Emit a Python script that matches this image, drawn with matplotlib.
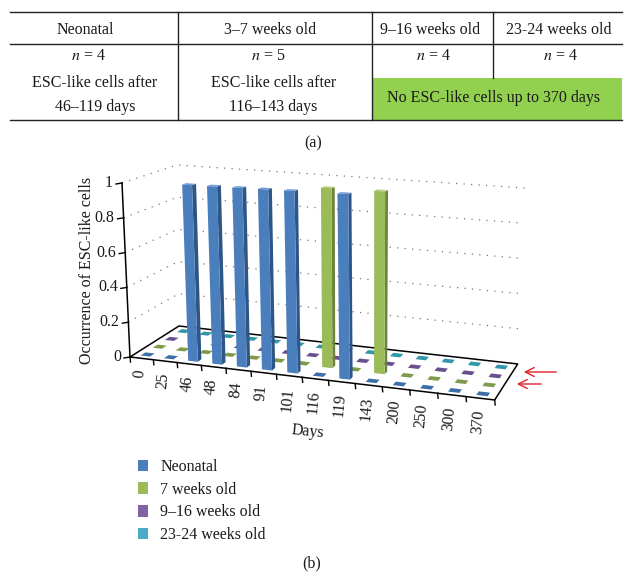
import numpy as np
import matplotlib
matplotlib.use('Agg')
import matplotlib.pyplot as plt
from matplotlib.patches import Polygon, Patch

plt.rcParams['font.family'] = ['Liberation Serif', 'DejaVu Serif']
plt.rcParams['mathtext.fontset'] = 'stix'
plt.rcParams['text.color'] = '#1a1a1a'

days = ['0', '25', '46', '48', '84', '91', '101', '116', '119', '143', '200', '250', '300', '370']
neonatal = [0, 0, 1, 1, 1, 1, 1, 0, 1, 0, 0, 0, 0, 0]
weeks_7 = [0, 0, 0, 0, 0, 0, 0, 1, 0, 1, 0, 0, 0, 0]
weeks_9_16 = [0] * 14
weeks_23_24 = [0] * 14
series_names = ['Neonatal', '7 weeks old', '9–16 weeks old', '23-24 weeks old']
z_ticks = [0, 0.2, 0.4, 0.6, 0.8, 1]

header = ['Neonatal', '3–7 weeks old', '9–16 weeks old', '23-24 weeks old']
counts = ['4', '5', '4', '4']

c_front = ['#4a7ebd', '#9bbb59', '#8064a2', '#4bacc6']
c_side = ['#2d5586', '#6c853c', '#5a4575', '#2f7f94']
c_top = ['#6f9bd0', '#b4cc7c', '#9a82ba', '#70c0d4']
c_flat = ['#3d6ea8', '#7f9a48', '#6a4f8e', '#2f97a8']
fs = 11.5

fig = plt.figure(figsize=(6.29, 5.80), dpi=100)
ax = fig.add_axes([0, 0, 1, 1])
ax.set_xlim(0, 629)
ax.set_ylim(580, 0)
ax.axis('off')

# table (a)
ax.add_patch(plt.Rectangle((372, 78), 250, 41.5, fc='#92d050', ec='none'))
for y in [11.5, 43.5, 119.5]:
    ax.plot([10, 622], [y, y], color='#222222', lw=1)
ax.plot([177.5, 177.5], [11.5, 119.5], color='#222222', lw=1)
ax.plot([372, 372], [11.5, 119.5], color='#222222', lw=1)
ax.plot([493, 493], [11.5, 78], color='#222222', lw=1)
for x, h in zip([85, 270, 430, 559], header):
    ax.text(x, 30, h, ha='center', va='center', fontsize=fs)
for x, c in zip([88, 268, 433, 560], counts):
    ax.text(x, 56, '$n$ = ' + c, ha='center', va='center', fontsize=fs)
ax.text(95, 83, 'ESC-like cells after', ha='center', va='center', fontsize=fs)
ax.text(95, 107, '46–119 days', ha='center', va='center', fontsize=fs)
ax.text(274, 83, 'ESC-like cells after', ha='center', va='center', fontsize=fs)
ax.text(273, 107, '116–143 days', ha='center', va='center', fontsize=fs)
ax.text(494, 98, 'No ESC-like cells up to 370 days', ha='center', va='center', fontsize=fs)
ax.text(313, 143, '(a)', ha='center', va='center', fontsize=fs)


def quad_map(q):
    # bilinear map from the unit square onto quad q
    p00, p10, p11, p01 = [np.array(c, float) for c in q]

    def f(u, v):
        return (1 - v) * ((1 - u) * p00 + u * p10) + v * ((1 - u) * p01 + u * p11)
    return f


floor = quad_map([(130, 357), (495, 400), (518, 364), (179, 326)])
ceil = quad_map([(122, 183), (497, 204), (525, 188), (177, 165)])
ncat = len(days)
nser = 4


def proj(i, j, z):
    # i in category units, j in series units, z in value units
    # categories get wider to the right
    u = (23.2 * i + 0.207 * i * i) / 365.7
    v = j / nser
    return floor(u, v) + z * (ceil(u, v) - floor(u, v))


# dotted walls
for z in z_ticks[1:]:
    pts = [proj(0, 0, z), proj(0, nser, z), proj(ncat, nser, z)]
    pts = np.array(pts)
    ax.plot(pts[:, 0], pts[:, 1], color='#777777', lw=0.9, ls=(0, (1, 5)))

# floor
corners = np.array([proj(0, 0, 0), proj(ncat, 0, 0), proj(ncat, nser, 0), proj(0, nser, 0), proj(0, 0, 0)])
ax.plot(corners[:, 0], corners[:, 1], color='black', lw=1.1, zorder=2)

# bars, back row first
rows = [neonatal, weeks_7, weeks_9_16, weeks_23_24]
bw = 0.2
bd_bar = 0.16
bd_flat = 0.2
zo = 3
for j in range(nser - 1, -1, -1):
    for i in range(ncat):
        val = rows[j][i]
        a, b = i + 0.5 - bw, i + 0.5 + bw
        if val == 0:
            c, d = j + 0.5 - bd_flat, j + 0.5 + bd_flat
            ax.add_patch(Polygon([proj(a, c, 0), proj(b, c, 0), proj(b, d, 0), proj(a, d, 0)],
                                 fc=c_flat[j], ec='none', zorder=zo))
        else:
            c, d = j + 0.5 - bd_bar, j + 0.5 + bd_bar
            ax.add_patch(Polygon([proj(b, c, 0), proj(b, d, 0), proj(b, d, val), proj(b, c, val)],
                                 fc=c_side[j], ec='none', zorder=zo))
            ax.add_patch(Polygon([proj(a, c, 0), proj(b, c, 0), proj(b, c, val), proj(a, c, val)],
                                 fc=c_front[j], ec='none', zorder=zo))
            ax.add_patch(Polygon([proj(a, c, val), proj(b, c, val), proj(b, d, val), proj(a, d, val)],
                                 fc=c_top[j], ec='none', zorder=zo))
        zo += 0.01

# z axis
bot = proj(0, 0, 0)
top = proj(0, 0, 1)
ax.plot([bot[0], top[0]], [bot[1], top[1]], color='black', lw=1.1, zorder=6)
for z in z_ticks:
    p = proj(0, 0, z)
    ax.plot([p[0] - 6, p[0]], [p[1] + 1, p[1]], color='black', lw=1, zorder=6)
    ax.text(p[0] - 9, p[1], f'{z:g}', ha='right', va='center', fontsize=fs)

# day ticks and labels
for i in range(ncat + 1):
    p = proj(i, 0, 0)
    ax.plot([p[0], p[0] + 0.5], [p[1], p[1] + 5], color='black', lw=1, zorder=6)
for i, name in enumerate(days):
    p = proj(i + 0.5, 0, 0)
    ax.text(p[0] - 2, p[1] + 11, name, rotation=85, ha='center', va='top', fontsize=fs)

ax.text(87, 270, 'Occurrence of ESC-like cells', rotation=90, ha='center', va='center', fontsize=fs)
ax.text(308, 432, 'Days', rotation=-6, ha='center', va='center', fontsize=fs)

# red arrows
ax.annotate('', xy=(521, 372), xytext=(559, 372), arrowprops=dict(arrowstyle='->', color='#e0202a', lw=1, mutation_scale=16))
ax.annotate('', xy=(514, 384), xytext=(544, 384), arrowprops=dict(arrowstyle='->', color='#e0202a', lw=1, mutation_scale=16))

handles = [Patch(fc=c, ec='none', label=n) for c, n in zip(c_front, series_names)]
ax.legend(handles=handles, loc='upper left', bbox_to_anchor=(138, 459), bbox_transform=ax.transData,
          frameon=False, fontsize=fs, handlelength=0.65, handleheight=0.75, labelspacing=0.42,
          handletextpad=0.75, borderpad=0, borderaxespad=0)

ax.text(312, 563, '(b)', ha='center', va='center', fontsize=fs)

fig.savefig('out.png', dpi=100)
